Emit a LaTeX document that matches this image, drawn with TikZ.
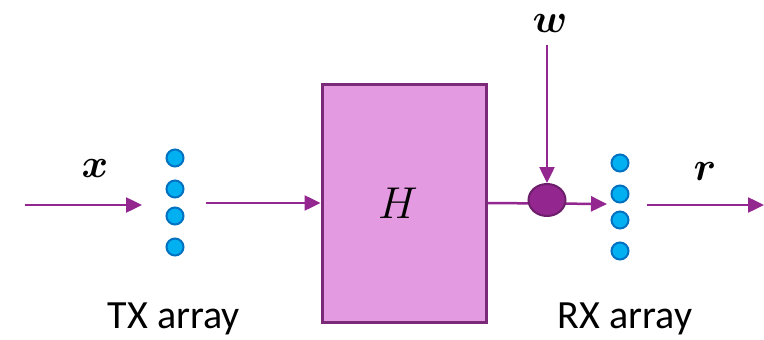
\documentclass[tikz,border=0pt]{standalone}
\usepackage{graphicx}
\usepackage{bm}
\usepackage{fontspec}
\setmainfont{Carlito}
\usetikzlibrary{arrows.meta,shapes.geometric}
\definecolor{flow}{HTML}{93278F}
\definecolor{flowdark}{HTML}{6E1F6B}
\definecolor{chanfill}{HTML}{E39AE0}
\definecolor{chanedge}{HTML}{7A2A78}
\definecolor{antfill}{HTML}{00B0F0}
\definecolor{antedge}{HTML}{0070C0}
\newcommand{\bigsym}[2]{\scalebox{#1}{\huge$#2$}}
\tikzset{
  arr/.style={draw=flow, line width=2.5pt, -{Triangle[length=16pt,width=15pt]}},
  ant/.style={circle, fill=antfill, draw=antedge, line width=2pt, minimum size=17pt, inner sep=0pt},
  lbl/.style={font=\fontsize{40}{44}\selectfont, anchor=base, inner sep=0pt},
  sym/.style={inner sep=0pt, anchor=base}
}
\begin{document}
\begin{tikzpicture}[x=1pt,y=-1pt]
\useasboundingbox (0,0) rectangle (764,340);
% channel block
\node[draw=chanedge, fill=chanfill, line width=3pt, minimum width=164pt, minimum height=238pt, inner sep=0pt] (H) at (404,203) {};
\node[sym] (Hl) at (398,218) {\bigsym{2.15}{H}};
% transmit antennas
\node[ant] (t1) at (175,158) {};
\node[ant] (t2) at (175,189) {};
\node[ant] (t3) at (175,216) {};
\node[ant] (t4) at (175,247) {};
\node[lbl] (txl) at (174,328) {TX array};
% receive antennas
\node[ant] (r1) at (620,163) {};
\node[ant] (r2) at (620,194) {};
\node[ant] (r3) at (620,220) {};
\node[ant] (r4) at (620,251) {};
\node[lbl] (rxl) at (625,328) {RX array};
% input
\coordinate (xin) at (25,205);
\coordinate (xtip) at (142,205);
\draw[arr] (xin) -- (xtip);
\node[sym] (xl) at (95,177) {\bigsym{1.95}{\bm{x}}};
\coordinate (txout) at (206,203);
\draw[arr] (txout) -- (H.west);
% noise adder
\coordinate (rxtip) at (607,204);
\draw[arr] (H.east) -- (rxtip);
\node[ellipse, fill=flow, draw=flowdark, line width=2pt, minimum width=37pt, minimum height=32pt, inner sep=0pt] (sum) at (547,200) {};
\coordinate (win) at (547,45);
\draw[arr] (win) -- (sum.north);
\node[sym] (wl) at (550,32) {\bigsym{1.95}{\bm{w}}};
% output
\coordinate (rxout) at (647,205);
\coordinate (rout) at (764,205);
\draw[arr] (rxout) -- (rout);
\node[sym] (rl) at (705,180) {\bigsym{1.95}{\bm{r}}};
\end{tikzpicture}
\end{document}
